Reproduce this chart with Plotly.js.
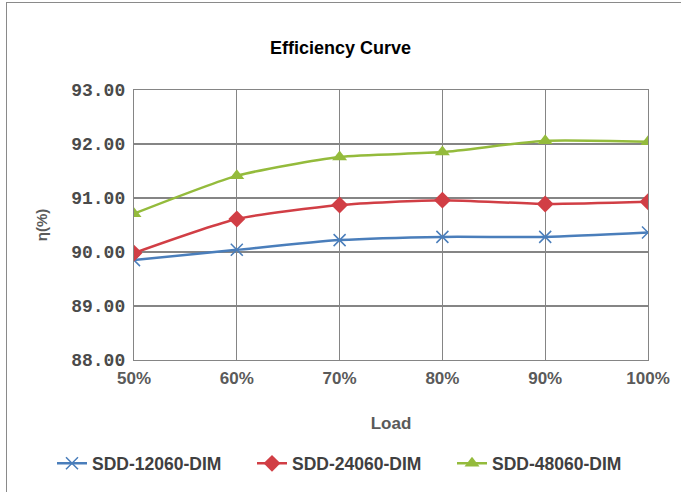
<!DOCTYPE html>
<html>
<head>
<meta charset="utf-8">
<script src="https://cdn.plot.ly/plotly-3.0.1.min.js"></script>
<style>
html,body{margin:0;padding:0;background:#fff;}
#wrap{position:absolute;left:0;top:0;width:681px;height:492px;overflow:hidden;}
#frame{position:absolute;left:6px;top:2px;width:690px;height:500px;border:1.5px solid #8a8a8a;pointer-events:none;}
#chart{width:681px;height:492px;}
</style>
</head>
<body>
<div id="wrap"><div id="chart"></div><div id="frame"></div></div>
<script>
const loads = ['50%','60%','70%','80%','90%','100%'];
const seriesNames = ['SDD-12060-DIM','SDD-24060-DIM','SDD-48060-DIM'];
const sdd12060 = [89.85, 90.04, 90.22, 90.28, 90.28, 90.36];
const sdd24060 = [89.98, 90.61, 90.87, 90.96, 90.89, 90.93];
const sdd48060 = [90.71, 91.41, 91.76, 91.85, 92.06, 92.04];
const yTicks = [88, 89, 90, 91, 92, 93];
const yTickText = ['88.00','89.00','90.00','91.00','92.00','93.00'];

const colors = ['#4a7ebb', '#d13e45', '#94bb3c'];
const symbols = ['x-thin-open', 'diamond', 'triangle-up'];
const sizes = [12, 13, 13];
const legendIds = ['legend', 'legend2', 'legend3'];
const data = [sdd12060, sdd24060, sdd48060].map((ys, i) => ({
  x: loads, y: ys, name: seriesNames[i], type: 'scatter', mode: 'lines+markers',
  legend: legendIds[i],
  line: {color: colors[i], width: 2.5, shape: 'spline', smoothing: 0.6},
  marker: {symbol: symbols[i], size: sizes[i], color: colors[i],
           line: {color: colors[i], width: i === 0 ? 1.5 : 0}}
}));

const legendFont = {family: 'Liberation Sans, Arial', size: 17.5, color: '#404040', weight: 'bold'};
const legendX = [52, 252, 452];
function mkLegend(px) {
  return {orientation: 'h', x: px / 681, xref: 'container', xanchor: 'left', y: 0.058, yref: 'container', yanchor: 'middle',
          font: legendFont, bgcolor: 'rgba(0,0,0,0)'};
}

const layout = {
  width: 681, height: 492,
  margin: {l: 134, r: 33, t: 90, b: 132},
  paper_bgcolor: '#fff', plot_bgcolor: '#fff',
  title: {text: 'Efficiency Curve', x: 0.5, xref: 'container', y: 0.915, yref: 'container',
          font: {family: 'Liberation Sans, Arial', size: 18, color: '#000', weight: 'bold'}},
  xaxis: {
    type: 'category', range: [0, 5], showgrid: true, gridcolor: '#858585', gridwidth: 1.2,
    showline: true, linecolor: '#858585', linewidth: 1.2, mirror: true, zeroline: false,
    ticks: '', ticklabelstandoff: 2,
    tickfont: {family: 'Liberation Sans, Arial', size: 17, color: '#5a5a5a', weight: 'bold'},
    title: {text: 'Load', standoff: 30, font: {family: 'Liberation Sans, Arial', size: 17, color: '#5a5a5a', weight: 'bold'}}
  },
  yaxis: {
    range: [88, 93], tickvals: yTicks, ticktext: yTickText, showgrid: true, gridcolor: '#858585', gridwidth: 1.2,
    showline: true, linecolor: '#858585', linewidth: 1.2, mirror: true, zeroline: false, ticks: '',
    ticklabelstandoff: 4,
    tickfont: {family: 'Liberation Mono, DejaVu Sans Mono', size: 18, color: '#4a4a4a', weight: 'bold'},
    title: {text: 'η(%)', standoff: 20, font: {family: 'Liberation Sans, Arial', size: 15, color: '#5a5a5a', weight: 'bold'}}
  },
  legend: mkLegend(legendX[0]),
  legend2: mkLegend(legendX[1]),
  legend3: mkLegend(legendX[2]),
  showlegend: true
};
Plotly.newPlot('chart', data, layout, {staticPlot: true});
</script>
</body>
</html>
